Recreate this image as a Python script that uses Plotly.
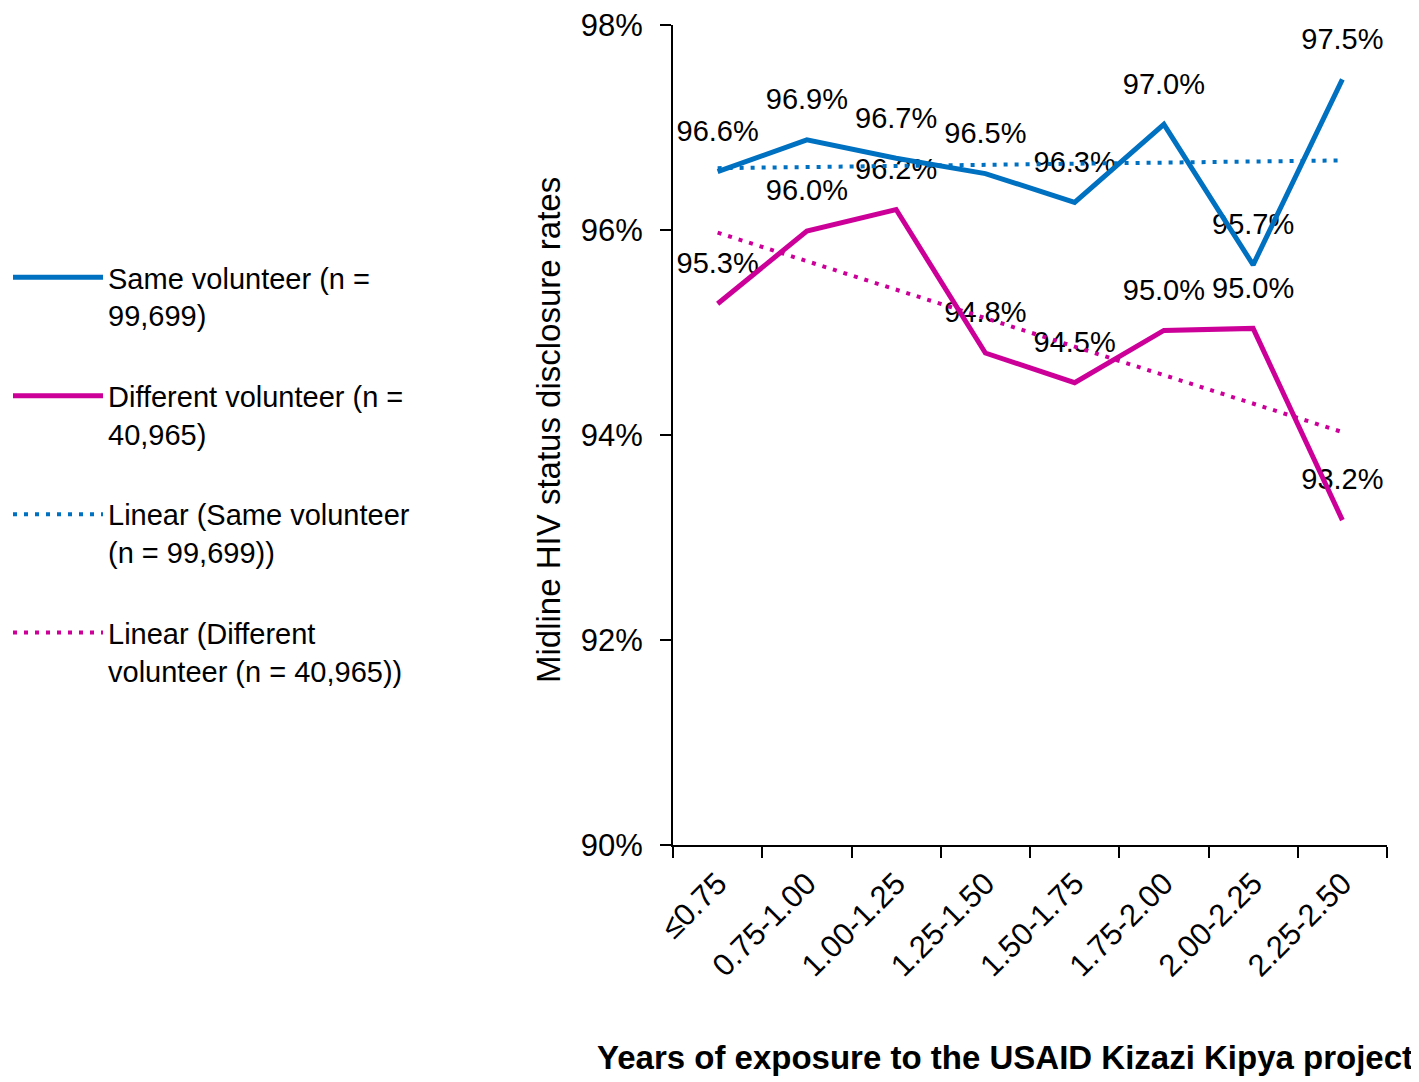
import numpy as np
import plotly.graph_objects as go

categories = ["≤0.75", "0.75-1.00", "1.00-1.25", "1.25-1.50",
              "1.50-1.75", "1.75-2.00", "2.00-2.25", "2.25-2.50"]
same_vals = [96.57, 96.88, 96.70, 96.55, 96.27, 97.03, 95.66, 97.47]
diff_vals = [95.28, 95.99, 96.20, 94.80, 94.51, 95.02, 95.04, 93.17]
same_labels = ["96.6%", "96.9%", "96.7%", "96.5%", "96.3%", "97.0%", "95.7%", "97.5%"]
diff_labels = ["95.3%", "96.0%", "96.2%", "94.8%", "94.5%", "95.0%", "95.0%", "93.2%"]
y_ticks = [90, 92, 94, 96, 98]
y_tick_text = ["90%", "92%", "94%", "96%", "98%"]

same_name = "Same volunteer (n =<br>99,699)"
diff_name = "Different volunteer (n =<br>40,965)"
same_trend_name = "Linear (Same volunteer<br>(n = 99,699))"
diff_trend_name = "Linear (Different<br>volunteer (n = 40,965))"

BLUE = "#0070C0"
MAGENTA = "#CC0099"
FONT = "Arial, Liberation Sans, sans-serif"

W, H = 1411, 1074
ML, MR, MT, MB = 665, 32, 17, 237
PW, PH = W - ML - MR, H - MT - MB

idx = np.arange(len(categories))
same_fit = np.polyval(np.polyfit(idx, same_vals, 1), idx)
diff_fit = np.polyval(np.polyfit(idx, diff_vals, 1), idx)

fig = go.Figure()

# data labels (drawn below the lines)
for vals, labels in [(same_vals, same_labels), (diff_vals, diff_labels)]:
    fig.add_trace(go.Scatter(
        x=categories, y=vals, mode="markers+text", text=labels,
        textposition="top center",
        textfont=dict(family=FONT, size=29, color="#000000"),
        marker=dict(size=36, opacity=0),
        showlegend=False, hoverinfo="skip"))

fig.add_trace(go.Scatter(
    x=categories, y=same_vals, mode="lines", name=same_name,
    line=dict(color=BLUE, width=5), legendgroup="a"))
fig.add_trace(go.Scatter(
    x=categories, y=diff_vals, mode="lines", name=diff_name,
    line=dict(color=MAGENTA, width=5), legendgroup="b"))
fig.add_trace(go.Scatter(
    x=categories, y=same_fit, mode="lines", name=same_trend_name,
    line=dict(color=BLUE, width=4, dash="4px,7px"), legendgroup="c"))
fig.add_trace(go.Scatter(
    x=categories, y=diff_fit, mode="lines", name=diff_trend_name,
    line=dict(color=MAGENTA, width=4, dash="4px,7px"), legendgroup="d"))

fig.update_layout(
    width=W, height=H,
    margin=dict(l=ML, r=MR, t=MT, b=MB, autoexpand=False),
    paper_bgcolor="white", plot_bgcolor="white",
    font=dict(family=FONT, size=29, color="#000000"),
    showlegend=True,
    legend=dict(
        x=-ML / PW, xanchor="left", y=(MT + PH - 244) / PH, yanchor="top",
        font=dict(family=FONT, size=29, color="#000000"),
        itemwidth=90, valign="top", tracegroupgap=40,
        traceorder="grouped", bgcolor="rgba(0,0,0,0)"),
    xaxis=dict(
        type="category", categoryorder="array", categoryarray=categories,
        range=[-0.5, 7.5], showgrid=False, zeroline=False, automargin=False,
        showline=True, linecolor="#000000", linewidth=2,
        ticks="outside", ticklen=11, tickwidth=2, tickcolor="#000000",
        tickson="boundaries", tickangle=-45, ticklabelstandoff=6,
        ticklabeloverflow="allow",
        tickfont=dict(family=FONT, size=31, color="#000000")),
    yaxis=dict(
        range=[90, 98], tickmode="array", tickvals=y_ticks, ticktext=y_tick_text,
        showgrid=False, zeroline=False, automargin=False,
        showline=True, linecolor="#000000", linewidth=2,
        ticks="outside", ticklen=11, tickwidth=2, tickcolor="#000000",
        ticklabelstandoff=11, ticklabeloverflow="allow",
        tickfont=dict(family=FONT, size=31, color="#000000")),
    annotations=[
        dict(text="Midline HIV status disclosure rates", xref="paper", yref="paper",
             x=(540 - ML) / PW, y=(MT + PH - 422) / PH, xanchor="center", yanchor="middle",
             textangle=-90, showarrow=False,
             font=dict(family=FONT, size=33, color="#000000")),
        dict(text="<b>Years of exposure to the USAID Kizazi Kipya project</b>",
             xref="paper", yref="paper",
             x=(997 - ML) / PW, y=(MT + PH - 1049) / PH,
             xanchor="center", yanchor="middle", showarrow=False,
             font=dict(family=FONT, size=33, color="#000000")),
    ],
)

fig.write_html("out.html")
